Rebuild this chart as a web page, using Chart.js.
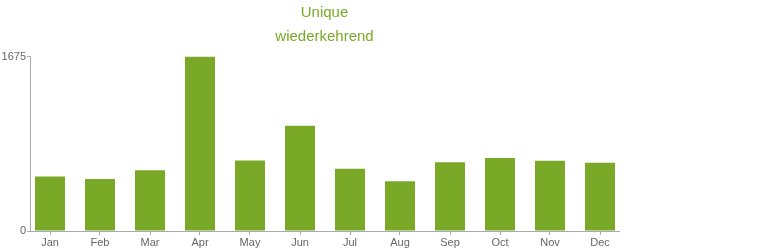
<!DOCTYPE html>
<html>
<head>
<meta charset="utf-8">
<script src="https://cdn.jsdelivr.net/npm/chart.js@4"></script>
<style>
  body { margin: 0; background: #fff; }
  #wrap { width: 770px; height: 250px; position: relative; }
</style>
</head>
<body>
<div id="wrap"><canvas id="visits"></canvas></div>
<script>
var months = ['Jan', 'Feb', 'Mar', 'Apr', 'May', 'Jun', 'Jul', 'Aug', 'Sep', 'Oct', 'Nov', 'Dec'];
var returning = [523, 500, 584, 1675, 677, 1010, 597, 478, 661, 700, 674, 655];
var titleLines = ['Unique', 'wiederkehrend'];
var yMax = 1675;

var green = '#7aa928';
var grey = '#666';
var axisGrey = '#aaa';
var font = 'Liberation Sans, Arial, sans-serif';

// bars on a linear x scale so the first/last month sit a bit closer to the ends
var points = returning.map(function(v, i) { return { x: i, y: v }; });

var visits = new Chart(document.getElementById('visits').getContext('2d'), {
    type: 'bar',
    data: {
        datasets: [
            {
                label: 'wiederkehrend',
                backgroundColor: green,
                data: points,
                barPercentage: 0.6,
                categoryPercentage: 1
            }
        ]
    },
    options: {
        responsive: true,
        maintainAspectRatio: false,
        animation: false,
        layout: { padding: { left: 0, right: 151, top: 0, bottom: 0 } },
        plugins: {
            legend: { display: false },
            tooltip: { enabled: false },
            title: {
                display: true,
                fullSize: false,
                text: titleLines,
                color: green,
                font: { family: font, size: 15, weight: 'normal', lineHeight: 1.65 },
                padding: { top: 0, bottom: 7 }
            }
        },
        scales: {
            x: {
                type: 'linear',
                offset: false,
                min: -0.4,
                max: 11.38,
                grid: { display: true, drawOnChartArea: false, offset: false, tickLength: 4, color: axisGrey },
                border: { color: axisGrey },
                ticks: {
                    color: grey,
                    padding: 1,
                    stepSize: 1,
                    autoSkip: false,
                    maxRotation: 0,
                    font: { family: font, size: 11 },
                    callback: function(value) { return months[value] !== undefined ? months[value] : ''; }
                },
                afterBuildTicks: function(scale) {
                    scale.ticks = months.map(function(m, i) { return { value: i }; });
                },
                afterFit: function(scale) { scale.height = 19; }
            },
            y: {
                min: 0,
                max: yMax,
                grid: { display: true, drawOnChartArea: false, tickLength: 3, color: axisGrey },
                border: { color: axisGrey },
                ticks: {
                    color: grey,
                    padding: 1,
                    stepSize: yMax,
                    font: { family: font, size: 11 },
                    callback: function(value) { return String(value); }
                },
                afterFit: function(scale) { scale.width = 30; }
            }
        }
    }
});
</script>
</body>
</html>
